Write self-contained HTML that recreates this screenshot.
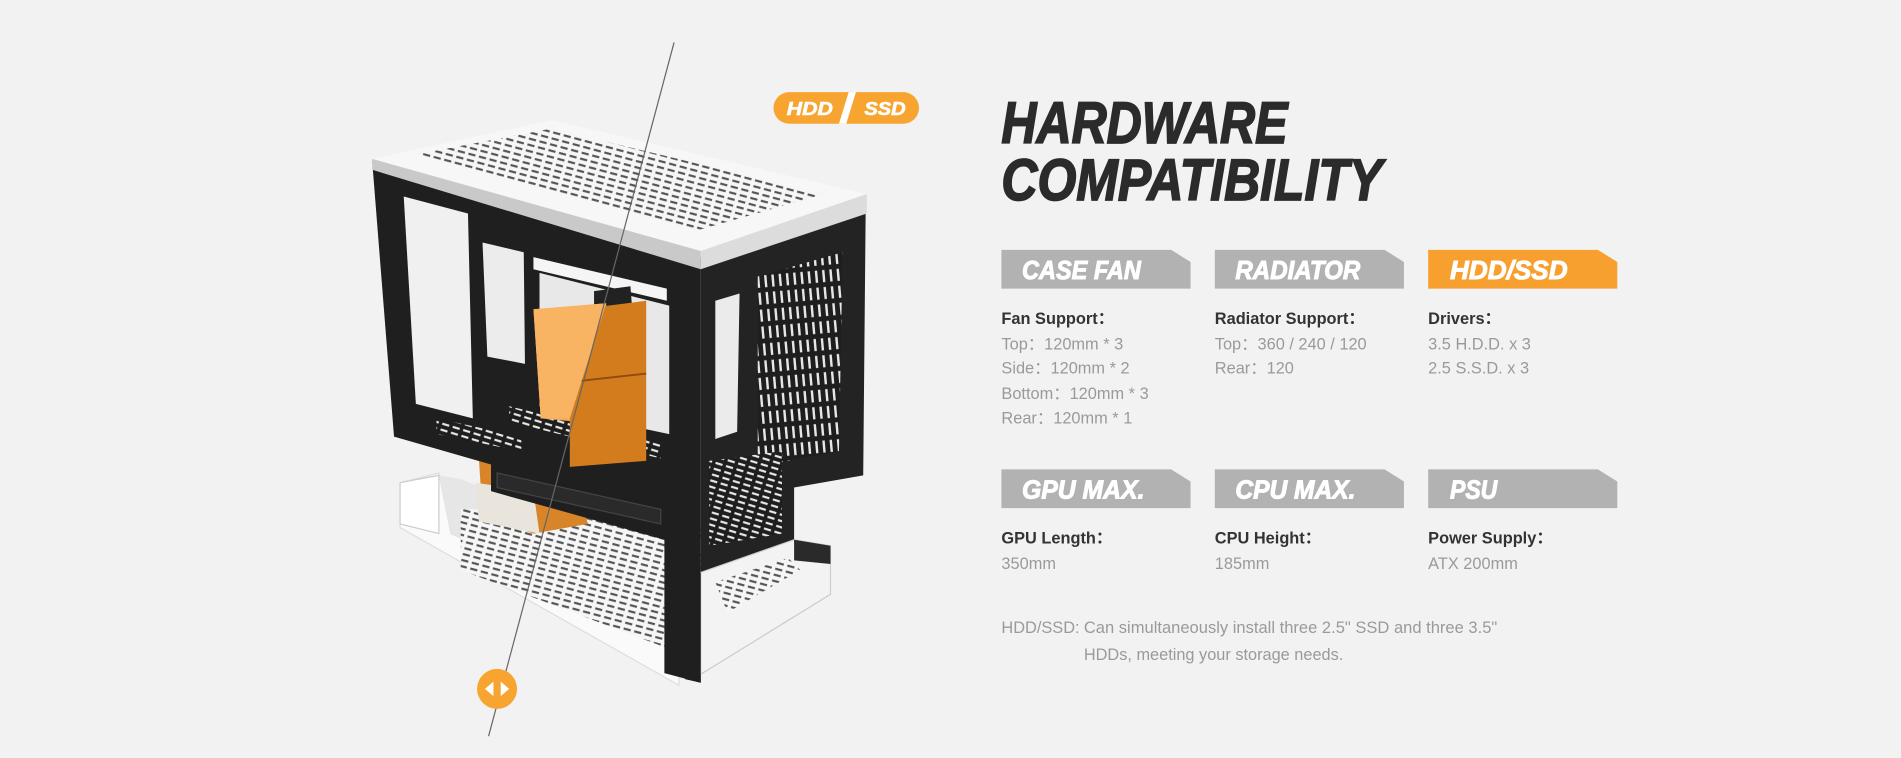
<!DOCTYPE html>
<html><head><meta charset="utf-8"><style>
html,body{margin:0;padding:0;background:#f2f2f2;width:1901px;height:758px;overflow:hidden}
svg{display:block}
.t{font-family:"Liberation Sans",sans-serif;font-weight:bold;font-style:italic}
.b{font-family:"Liberation Sans","Noto Sans CJK SC",sans-serif;font-size:13.5px}
.lb{fill:#333;font-weight:bold}
.v{fill:#9a9a9a}
</style></head><body>
<svg width="1901" height="758" viewBox="0 0 1568 625" preserveAspectRatio="none">
<defs>
<pattern id="slotW" width="9" height="5" patternUnits="userSpaceOnUse" patternTransform="rotate(17)"><rect width="9" height="5" fill="#1e1e1e"/><rect x="1" y="1.5" width="6" height="1.8" fill="#e8e8e8"/></pattern>
<pattern id="slotB" width="9" height="5" patternUnits="userSpaceOnUse" patternTransform="rotate(15)"><rect width="9" height="5" fill="#f6f6f6"/><rect x="1" y="1.5" width="6" height="1.8" fill="#555"/></pattern>
<pattern id="slotV" width="6" height="14" patternUnits="userSpaceOnUse" patternTransform="rotate(-5)"><rect width="6" height="14" fill="#1e1e1e"/><rect x="2" y="1" width="2" height="10" fill="#e6e6e6"/></pattern>
</defs>
<rect width="1568" height="625" fill="#f2f2f2"/>

<!-- bottom white tray -->
<polygon points="330,398 362,390 372,440 560,520 560,565 330,435" fill="#fafafa" stroke="#ddd"/>
<polygon points="362,392 380,395 560,470 565,520 372,440" fill="#e6e6e6"/>
<polygon points="380,420 520,420 650,455 565,540 380,470" fill="url(#slotB)"/>
<polygon points="330,398 362,392 362,440 330,432" fill="#fff" stroke="#ccc"/>

<!-- lower orange drive -->
<polygon points="395,378 470,385 485,432 440,440 398,425" fill="#d8852a"/>
<polygon points="392,398 440,405 445,440 395,430" fill="#e9e4dc"/>

<!-- front face -->
<polygon points="307,133 578,212 578,563 548,555 548,445 405,405 405,383 325,360" fill="#1f1f1f"/>
<polygon points="333,162 386,176 390,345 343,333" fill="#f0f0f0"/>
<polygon points="398,200 432,208 433,300 402,294" fill="#ececec"/>
<polygon points="445,225 552,252 552,358 445,335" fill="#e8e8e8"/>
<polygon points="440,212 550,238 550,248 440,222" fill="#f5f5f5"/>
<polygon points="360,345 430,360 430,372 360,358" fill="url(#slotW)"/>
<polygon points="420,335 545,365 545,378 420,348" fill="url(#slotW)"/>
<polygon points="410,390 545,420 545,432 410,402" fill="#2a2a2a" stroke="#444"/>

<!-- HDD stack -->
<polygon points="490,240 520,236 522,262 490,264" fill="#222"/>
<polygon points="440,255 500,250 500,350 446,345" fill="#f6aa52"/>
<polygon points="470,256 533,248 533,380 470,385" fill="#d27c1e"/>
<line x1="470" y1="315" x2="533" y2="308" stroke="#8a4c10" stroke-width="1.5"/>
<polygon points="440,255 500,250 470,345 446,345" fill="#f8b463"/>

<!-- right face -->
<polygon points="578,212 714,176 712,392 655,402 655,445 578,472" fill="#232323"/>
<polygon points="578,472 655,445 685,450 685,490 578,556" fill="#f3f3f3" stroke="#ccc"/>
<polygon points="590,480 650,460 660,470 600,505" fill="url(#slotB)"/>
<polygon points="655,445 685,450 685,465 655,462" fill="#2a2a2a"/>
<polygon points="565,470 578,472 578,563 565,560" fill="#1f1f1f"/>
<polygon points="590,248 610,242 608,356 590,362" fill="#ebebeb"/>
<polygon points="625,228 695,208 692,372 625,385" fill="url(#slotV)"/>
<polygon points="585,380 645,372 645,440 585,450" fill="url(#slotW)"/>

<!-- top face -->
<polygon points="307,131 455,99 715,160 578,207" fill="#f7f7f7"/>
<polygon points="307,131 578,207 578,222 307,140" fill="#c9c9c9"/>
<polygon points="578,207 715,160 715,176 578,222" fill="#dcdcdc"/>
<polygon points="345,127 455,106 680,160 575,190" fill="url(#slotB)"/>

<!-- slider line & handle -->
<line x1="556" y1="35" x2="403" y2="607" stroke="#666" stroke-width="1"/>
<circle cx="410" cy="568" r="16.5" fill="#f7a530"/>
<polygon points="407,562 407,574 400,568" fill="#fff"/>
<polygon points="413,562 413,574 420,568" fill="#fff"/>

<!-- badge -->
<rect x="638" y="76" width="120" height="26" rx="13" fill="#f7a530"/>
<polygon points="700,76 706,76 698,102 692,102" fill="#fff"/>
<text class="t" x="649" y="95" font-size="15" fill="#fff" stroke="#fff" stroke-width="0.5" textLength="38" lengthAdjust="spacingAndGlyphs">HDD</text>
<text class="t" x="713" y="95" font-size="15" fill="#fff" stroke="#fff" stroke-width="0.5" textLength="34" lengthAdjust="spacingAndGlyphs">SSD</text>

<!-- title -->
<text class="t" x="826" y="118" font-size="48" fill="#2b2b2b" stroke="#2b2b2b" stroke-width="1.4" textLength="236" lengthAdjust="spacingAndGlyphs">HARDWARE</text>
<text class="t" x="826" y="165" font-size="48" fill="#2b2b2b" stroke="#2b2b2b" stroke-width="1.4" textLength="314" lengthAdjust="spacingAndGlyphs">COMPATIBILITY</text>

<!-- tabs row 1 -->
<polygon points="826,206 966,206 982,216 982,238 826,238" fill="#b2b2b2"/>
<polygon points="1002,206 1142,206 1158,216 1158,238 1002,238" fill="#b2b2b2"/>
<polygon points="1178,206 1318,206 1334,216 1334,238 1178,238" fill="#f7a030"/>
<g stroke="#fff" stroke-width="0.8">
<text class="t" x="843" y="230" font-size="21" fill="#fff" textLength="98" lengthAdjust="spacingAndGlyphs">CASE FAN</text>
<text class="t" x="1019" y="230" font-size="21" fill="#fff" textLength="103" lengthAdjust="spacingAndGlyphs">RADIATOR</text>
<text class="t" x="1196" y="230" font-size="21" fill="#fff" textLength="97" lengthAdjust="spacingAndGlyphs">HDD/SSD</text>
</g>

<g class="b">
<text class="lb" x="826" y="267">Fan Support：</text>
<text class="v" x="826" y="288">Top：120mm * 3</text>
<text class="v" x="826" y="308">Side：120mm * 2</text>
<text class="v" x="826" y="329">Bottom：120mm * 3</text>
<text class="v" x="826" y="349">Rear：120mm * 1</text>
<text class="lb" x="1002" y="267">Radiator Support：</text>
<text class="v" x="1002" y="288">Top：360 / 240 / 120</text>
<text class="v" x="1002" y="308">Rear：120</text>
<text class="lb" x="1178" y="267">Drivers：</text>
<text class="v" x="1178" y="288">3.5 H.D.D. x 3</text>
<text class="v" x="1178" y="308">2.5 S.S.D. x 3</text>
</g>

<!-- tabs row 2 -->
<polygon points="826,387 966,387 982,397 982,419 826,419" fill="#b2b2b2"/>
<polygon points="1002,387 1142,387 1158,397 1158,419 1002,419" fill="#b2b2b2"/>
<polygon points="1178,387 1318,387 1334,397 1334,419 1178,419" fill="#b2b2b2"/>
<g stroke="#fff" stroke-width="0.8">
<text class="t" x="843" y="411" font-size="21" fill="#fff" textLength="101" lengthAdjust="spacingAndGlyphs">GPU MAX.</text>
<text class="t" x="1019" y="411" font-size="21" fill="#fff" textLength="99" lengthAdjust="spacingAndGlyphs">CPU MAX.</text>
<text class="t" x="1196" y="411" font-size="21" fill="#fff" textLength="39" lengthAdjust="spacingAndGlyphs">PSU</text>
</g>

<g class="b">
<text class="lb" x="826" y="448">GPU Length：</text>
<text class="v" x="826" y="469">350mm</text>
<text class="lb" x="1002" y="448">CPU Height：</text>
<text class="v" x="1002" y="469">185mm</text>
<text class="lb" x="1178" y="448">Power Supply：</text>
<text class="v" x="1178" y="469">ATX 200mm</text>
<text class="v" x="826" y="522">HDD/SSD:</text>
<text class="v" x="894" y="522" textLength="341" lengthAdjust="spacingAndGlyphs">Can simultaneously install three 2.5" SSD and three 3.5"</text>
<text class="v" x="894" y="544" textLength="214" lengthAdjust="spacingAndGlyphs">HDDs, meeting your storage needs.</text>
</g>
</svg>
</body></html>
